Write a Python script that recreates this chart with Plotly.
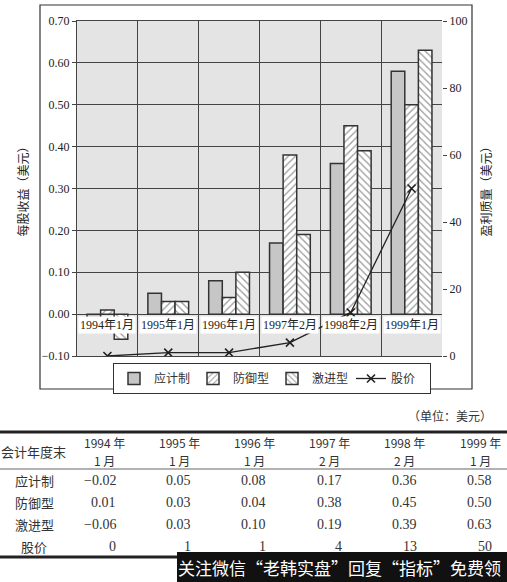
import plotly.graph_objects as go

years = [1994, 1995, 1996, 1997, 1998, 1999]
months = [1, 1, 1, 2, 2, 1]
accrual = [-0.02, 0.05, 0.08, 0.17, 0.36, 0.58]      # 应计制
defensive = [0.01, 0.03, 0.04, 0.38, 0.45, 0.50]     # 防御型
aggressive = [-0.06, 0.03, 0.10, 0.19, 0.39, 0.63]   # 激进型
price = [0, 1, 1, 4, 13, 50]                          # 股价
row_names = ["应计制", "防御型", "激进型", "股价"]

W, H = 507, 582
labels = [f"{y}年{m}月" for y, m in zip(years, months)]


def px_x(x):
    return x / W


def px_y(y):
    return 1 - y / H


def num(v, fmt):
    return format(v, fmt).replace("-", "\u2212")


def note(x, y, text, size, family, color="#333333", xanchor="center"):
    # paper-anchored text placed in pixel coords of the 507x582 page
    fig.add_annotation(x=px_x(x), y=px_y(y), xref="paper", yref="paper",
                       text=text, showarrow=False, xanchor=xanchor,
                       yanchor="middle", borderpad=0,
                       font=dict(family=family, size=size, color=color))


serif = "Liberation Serif, Noto Sans CJK SC"
cjk = "Noto Sans CJK SC"
ink = "#333333"

fig = go.Figure()

fig.add_trace(go.Bar(
    x=labels, y=accrual, name="应计制",
    marker=dict(color="#c6c6c6", line=dict(color=ink, width=1.5))))
fig.add_trace(go.Bar(
    x=labels, y=defensive, name="防御型",
    marker=dict(color="white", line=dict(color=ink, width=1.5),
                pattern=dict(shape="/", fgcolor=ink, bgcolor="white",
                             size=5, solidity=0.25))))
fig.add_trace(go.Bar(
    x=labels, y=aggressive, name="激进型",
    marker=dict(color="white", line=dict(color=ink, width=1.5),
                pattern=dict(shape="\\", fgcolor=ink, bgcolor="white",
                             size=5, solidity=0.25))))
fig.add_trace(go.Scatter(
    x=labels, y=price, name="股价", yaxis="y2", mode="lines+markers",
    line=dict(color="#222222", width=1.3),
    marker=dict(symbol="x-thin-open", size=8,
                line=dict(color="#222222", width=1.6))))

# category labels sit inside the plot just below zero
for lab in labels:
    fig.add_annotation(x=lab, y=0, xref="x", yref="y", text=lab,
                       showarrow=False, yanchor="top", yshift=-2,
                       bgcolor="white", borderpad=1,
                       font=dict(family=serif, size=12, color="#222"))

# table under the chart, one annotation per cell
col_w = 75.2
first_c = 104
row_y = [480, 502, 524, 546]
note(33, 451, "会计年度末", 13, cjk)
for i, (y, m) in enumerate(zip(years, months)):
    note(first_c + col_w * i, 442, f"{y} 年", 12, cjk)
    note(first_c + col_w * i, 460, f"{m} 月", 12, cjk)
table_rows = [
    [num(v, ".2f") for v in accrual],
    [num(v, ".2f") for v in defensive],
    [num(v, ".2f") for v in aggressive],
    [str(v) for v in price],
]
for r, (name, vals) in enumerate(zip(row_names, table_rows)):
    note(34, row_y[r], name, 13, cjk)
    for i, t in enumerate(vals):
        note(first_c + col_w * i + 13, row_y[r], t, 14, "Liberation Serif",
             xanchor="right")

fig.update_layout(
    width=W, height=H,
    margin=dict(l=0, r=0, t=0, b=0),
    paper_bgcolor="white",
    plot_bgcolor="#e4e4e4",
    barmode="group", bargap=0.33, bargroupgap=0,
    showlegend=True,
    legend=dict(orientation="h", x=px_x(113), y=px_y(363),
                xanchor="left", yanchor="top",
                bgcolor="white", bordercolor=ink, borderwidth=1,
                font=dict(family=cjk, size=12, color=ink),
                itemwidth=30, entrywidth=34, tracegroupgap=0),
    xaxis=dict(domain=[px_x(77), px_x(442)], showticklabels=False,
               ticks="", tickson="boundaries", showgrid=True,
               gridcolor="#444", gridwidth=1, showline=True,
               linecolor="#444", linewidth=1, mirror=True,
               automargin=False),
    yaxis=dict(domain=[px_y(356), px_y(21)], range=[-0.1, 0.7],
               dtick=0.1, tickformat=".2f", ticks="outside", ticklen=4,
               tickcolor="#444", showgrid=True, gridcolor="#444",
               gridwidth=1, zeroline=False, showline=True,
               linecolor="#444", linewidth=1, automargin=False,
               tickfont=dict(family=serif, size=12, color="#222"),
               title=dict(text="每股收益（美元）", standoff=10,
                          font=dict(family=cjk, size=12, color="#222"))),
    yaxis2=dict(overlaying="y", side="right", anchor="x",
                range=[0, 100], dtick=20, ticks="outside", ticklen=4,
                tickcolor="#444", showgrid=False, zeroline=False,
                automargin=False,
                tickfont=dict(family=serif, size=12, color="#222"),
                title=dict(text="盈利质量（美元）", standoff=16,
                           font=dict(family=cjk, size=12, color="#222"))),
)

shapes = [
    # frame around the chart
    dict(type="rect", xref="paper", yref="paper",
         x0=px_x(40), x1=px_x(472), y0=px_y(389), y1=px_y(5),
         line=dict(color=ink, width=1.2)),
    # table rules
    dict(type="line", xref="paper", yref="paper", x0=0, x1=1,
         y0=px_y(432), y1=px_y(432), line=dict(color="#222", width=3)),
    dict(type="line", xref="paper", yref="paper", x0=0, x1=1,
         y0=px_y(469), y1=px_y(469), line=dict(color="#999", width=1.5)),
    dict(type="line", xref="paper", yref="paper", x0=0, x1=1,
         y0=px_y(557), y1=px_y(557), line=dict(color="#222", width=3)),
    # watermark band
    dict(type="rect", xref="paper", yref="paper", layer="above",
         x0=px_x(177), x1=1, y0=0, y1=px_y(552),
         fillcolor="#111", line=dict(width=0)),
]
fig.update_layout(shapes=shapes)

note(493, 415, "（单位：美元）", 12, cjk, xanchor="right")
note(339, 567, "关注微信“老韩实盘”回复“指标”免费领", 17, cjk, color="white")

# page body has a default 8px margin, drop it so the figure fills the window
fig.write_html("out.html", config={"displayModeBar": False},
               post_script="document.body.style.margin='0';")
